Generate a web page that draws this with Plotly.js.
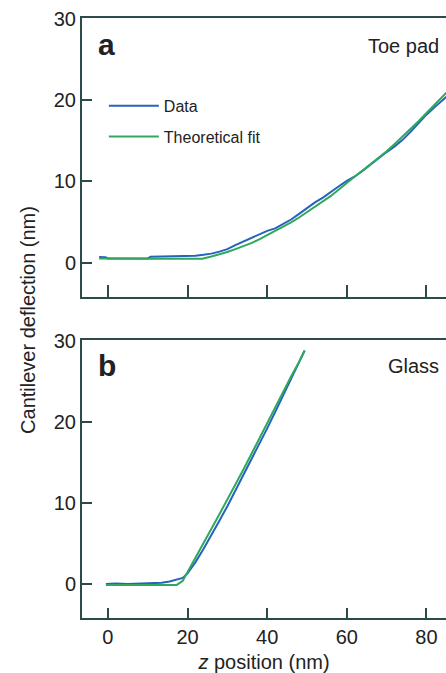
<!DOCTYPE html>
<html>
<head>
<meta charset="utf-8">
<script src="https://cdn.plot.ly/plotly-3.0.1.min.js"></script>
<style>html,body{margin:0;padding:0;background:#fff;}#chart{width:446px;height:673px;}</style>
</head>
<body>
<div id="chart"></div>
<script>
// Panel a: Toe pad
const toeDataX = [-2.2,-0.6,0,5,10,10.7,15,20,22,24,26,28,30,32,34,36,38,40,42,44,46,48,50,52,54,56,58,60,62,64,66,68,70,72,74,76,78,80,82,84,85];
const toeDataY = [0.7,0.65,0.5,0.5,0.5,0.72,0.75,0.8,0.85,0.95,1.1,1.35,1.65,2.15,2.6,3.0,3.45,3.9,4.2,4.7,5.3,6.0,6.75,7.4,8.0,8.75,9.4,10.05,10.6,11.3,12.1,12.9,13.6,14.3,15.1,16.1,17.2,18.2,19.1,20.0,20.4];
const toeFitX = [-2.2,0,5,10,15,20,23.7,26,28,30,32,34,36,38,40,42,44,46,48,50,52,54,56,58,60,62,64,66,68,70,72,74,76,78,80,82,84,85];
const toeFitY = [0.5,0.48,0.47,0.47,0.47,0.47,0.48,0.75,1.0,1.3,1.65,2.0,2.4,2.85,3.35,3.85,4.35,4.95,5.55,6.2,6.85,7.5,8.2,9.0,9.85,10.6,11.35,12.1,12.9,13.7,14.6,15.5,16.4,17.4,18.4,19.4,20.4,20.9];
// Panel b: Glass
const glassDataX = [-0.5,2,5,8,11,13.5,15.5,17.2,18.8,20,22,24,26,28,30,32,34,36,38,40,42,44,46,48,49.4];
const glassDataY = [0.0,0.05,0.0,0.05,0.1,0.15,0.3,0.5,0.75,1.3,2.7,4.3,6.0,7.8,9.6,11.5,13.4,15.3,17.3,19.2,21.2,23.2,25.2,27.4,28.8];
const glassFitX = [-0.5,5,10,15,17.3,18.8,20,22,24,26,28,30,32,34,36,38,40,42,44,46,48,49.4];
const glassFitY = [-0.12,-0.12,-0.12,-0.12,-0.12,0.4,1.5,3.2,5.0,6.8,8.6,10.4,12.2,14.1,16.0,17.9,19.9,21.9,23.8,25.6,27.4,28.8];
const xTicks = [0,20,40,60,80];
const yTicks = [0,10,20,30];
const seriesNames = ['Data','Theoretical fit'];
const panelLabels = ['a','b'];
const panelTitles = ['Toe pad','Glass'];

const blue = '#2563bd';
const green = '#2fa85e';
const frame = '#2d4a4a';
const font = '"Liberation Sans", Arial, sans-serif';

const traces = [
  {x: toeDataX, y: toeDataY, xaxis:'x', yaxis:'y', mode:'lines', name: seriesNames[0], line:{color: blue, width:2}, legendgroup:'g1'},
  {x: toeFitX, y: toeFitY, xaxis:'x', yaxis:'y', mode:'lines', name: seriesNames[1], line:{color: green, width:2}, legendgroup:'g2'},
  {x: glassDataX, y: glassDataY, xaxis:'x2', yaxis:'y2', mode:'lines', name: seriesNames[0], line:{color: blue, width:2}, showlegend:false},
  {x: glassFitX, y: glassFitY, xaxis:'x2', yaxis:'y2', mode:'lines', name: seriesNames[1], line:{color: green, width:2}, showlegend:false}
];

const axisCommon = {
  showline:true, linecolor: frame, linewidth:2, mirror:true,
  ticks:'inside', tickcolor: frame, tickwidth:2,
  showgrid:false, zeroline:false,
  tickfont:{family: font, size:20, color:'#222'}
};

const layout = {
  width:446, height:673,
  margin:{l:82, r:0, t:18, b:55},
  paper_bgcolor:'#fff', plot_bgcolor:'#fff',
  font:{family: font, color:'#222'},
  showlegend:true,
  legend:{x:0.06, y:0.882, xanchor:'left', yanchor:'top', bgcolor:'rgba(0,0,0,0)', font:{family:font, size:16, color:'#222'}, tracegroupgap:7, itemwidth:50},
  xaxis: Object.assign({}, axisCommon, {domain:[0,1], range:[-6.5,84.9], tickvals:xTicks, ticklen:12, showticklabels:false, anchor:'y'}),
  yaxis: Object.assign({}, axisCommon, {domain:[0.5355,1], range:[-4.2,30.1], tickvals:yTicks, ticklen:10, mirror:false, anchor:'x'}),
  xaxis2: Object.assign({}, axisCommon, {domain:[0,1], range:[-6.5,84.9], tickvals:xTicks, ticklen:10, anchor:'y2',
     title:{text:'<i>z</i> position (nm)', font:{family:font, size:20, color:'#222'}, standoff:8}}),
  yaxis2: Object.assign({}, axisCommon, {domain:[0,0.4633], range:[-4.2,30.1], tickvals:yTicks, ticklen:10, mirror:false, anchor:'x2'}),
  annotations:[
    {xref:'x', yref:'y', x:-2.9, y:26.9, text:'<b>'+panelLabels[0]+'</b>', showarrow:false, xanchor:'left', yanchor:'middle', font:{family:font, size:30, color:'#222'}},
    {xref:'x2', yref:'y2', x:-2.9, y:26.9, text:'<b>'+panelLabels[1]+'</b>', showarrow:false, xanchor:'left', yanchor:'middle', font:{family:font, size:30, color:'#222'}},
    {xref:'x', yref:'y', x:83.6, y:26.6, text:panelTitles[0], showarrow:false, xanchor:'right', yanchor:'middle', font:{family:font, size:20, color:'#222'}},
    {xref:'x2', yref:'y2', x:83.6, y:26.9, text:panelTitles[1], showarrow:false, xanchor:'right', yanchor:'middle', font:{family:font, size:20, color:'#222'}},
    {xref:'paper', yref:'paper', x:-0.148, y:0.497, text:'Cantilever deflection (nm)', textangle:-90, showarrow:false, xanchor:'center', yanchor:'middle', font:{family:font, size:20, color:'#222'}}
  ]
};

Plotly.newPlot('chart', traces, layout, {displayModeBar:false, staticPlot:true});
</script>
</body>
</html>
